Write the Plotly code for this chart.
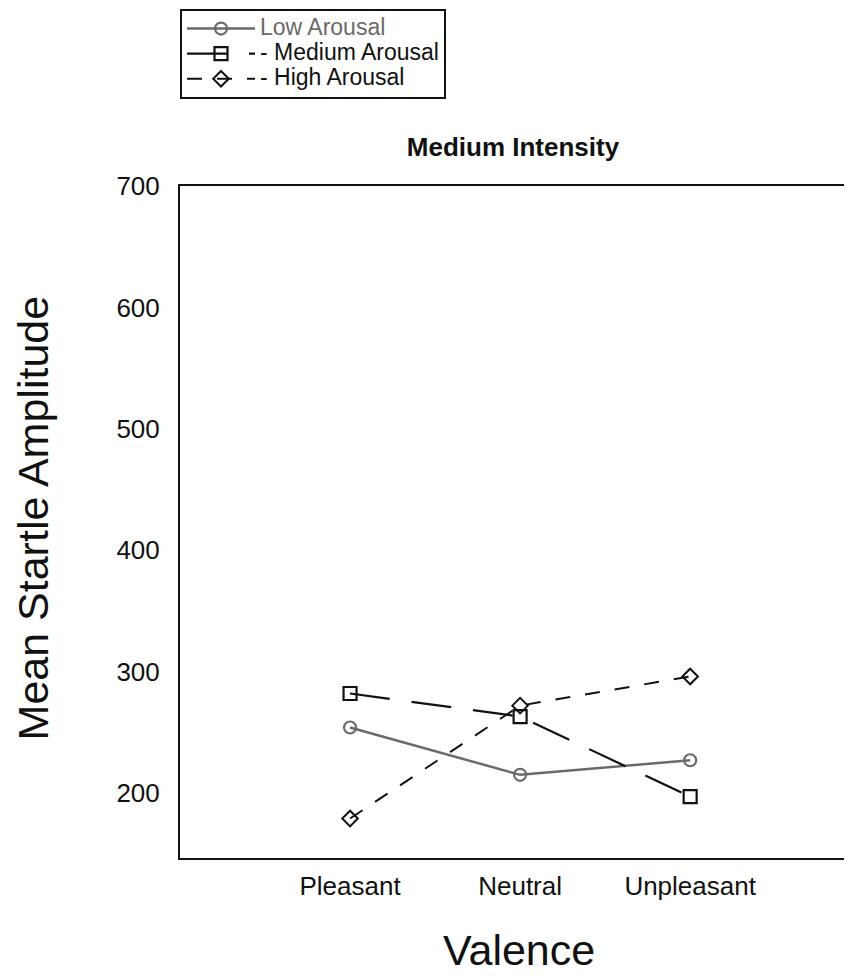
import plotly.graph_objects as go

categories = ["Pleasant", "Neutral", "Unpleasant"]
low_arousal = [254, 215, 227]
medium_arousal = [282, 263, 197]
high_arousal = [179, 272, 296]
y_ticks = [200, 300, 400, 500, 600, 700]

FONT = "Arial, 'Liberation Sans', sans-serif"

# page body has an 8px margin; figure is sized to fill the rest of the window
W, H = 844, 971
OFF = 8
LEG_TXT = 23  # rendered legend text size


def leg(name, color="#111111"):
    return f'<span style="font-size:{LEG_TXT}px;color:{color}">{name}</span>'


fig = go.Figure()
fig.add_trace(go.Scatter(
    x=categories, y=low_arousal, mode="lines+markers",
    name=leg("Low Arousal", "#6a6a6a"),
    line=dict(color="#6a6a6a", width=2.5),
    marker=dict(symbol="circle-open", size=12, color="#6a6a6a", line=dict(width=2.2)),
))
fig.add_trace(go.Scatter(
    x=categories, y=medium_arousal, mode="lines+markers",
    name=leg("- Medium Arousal"),
    line=dict(color="#111111", width=2.2, dash="40px,22px"),
    marker=dict(symbol="square-open", size=13, color="#111111", line=dict(width=2.2)),
))
fig.add_trace(go.Scatter(
    x=categories, y=high_arousal, mode="lines+markers",
    name=leg("- High Arousal"),
    line=dict(color="#111111", width=2, dash="15px,15px"),
    marker=dict(symbol="diamond-open", size=12, color="#111111", line=dict(width=2)),
))

fig.update_layout(
    width=W, height=H,
    margin=dict(l=180 - OFF, r=0, t=186 - OFF, b=121),
    paper_bgcolor="white", plot_bgcolor="white",
    font=dict(family=FONT, color="#111111", size=24),
    showlegend=True,
    legend=dict(
        x=0.0, y=(858 - 9) / 672, xanchor="left", yanchor="top",
        bordercolor="#111111", borderwidth=2, bgcolor="white",
        font=dict(size=17, family=FONT, color="#111111"),
        itemwidth=68, tracegroupgap=0,
    ),
    title=dict(
        text="<b>Medium Intensity</b>",
        x=(514 - 180) / 672, xref="paper", y=1 - (147 - OFF) / H, yref="container",
        xanchor="center", yanchor="middle",
        font=dict(size=26, family=FONT, color="#111111"),
    ),
    xaxis=dict(
        type="category", range=[-1.0, 2.94],
        showline=True, mirror=True, linecolor="#111111", linewidth=2,
        showgrid=False, zeroline=False, ticks="",
        tickfont=dict(size=26, family=FONT, color="#111111"),
        ticklabelstandoff=4,
    ),
    yaxis=dict(
        range=[146.5, 700], tickvals=y_ticks,
        showline=True, mirror=True, linecolor="#111111", linewidth=2,
        showgrid=False, zeroline=False, ticks="",
        tickfont=dict(size=26, family=FONT, color="#111111"),
        ticklabelstandoff=13,
    ),
    annotations=[
        dict(text="Mean Startle Amplitude", xref="paper", yref="paper",
             x=(33 - 180) / 672, y=(858 - 518) / 672, textangle=-90,
             showarrow=False, xanchor="center", yanchor="middle",
             font=dict(size=43, family=FONT, color="#111111")),
        dict(text="Valence", xref="paper", yref="paper",
             x=(520 - 180) / 672, y=(858 - 950) / 672,
             showarrow=False, xanchor="center", yanchor="middle",
             font=dict(size=43, family=FONT, color="#111111")),
    ],
)

fig.write_html("out.html")
